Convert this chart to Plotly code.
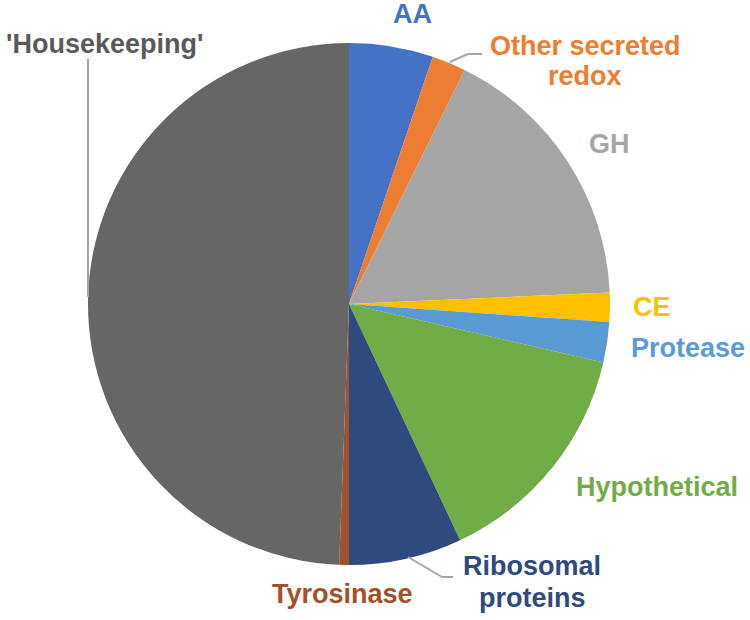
import plotly.graph_objects as go

categories = ["AA", "Other secreted redox", "GH", "CE", "Protease", "Hypothetical",
              "Ribosomal proteins", "Tyrosinase", "'Housekeeping'"]
values = [5.2, 2.1, 17.0, 1.8, 2.5, 14.4, 7.0, 0.6, 49.4]
colors = ["#4472C4", "#ED7D31", "#A5A5A5", "#FFC000", "#5B9BD5", "#70AD47",
          "#2F4A7C", "#A0522D", "#666666"]

W, H = 750, 620
cx, cy, r = 349, 304, 261


def px(x):
    return x / W


def py(y):
    return 1 - y / H


fig = go.Figure(go.Pie(
    labels=categories, values=values, sort=False, direction="clockwise",
    rotation=0, marker=dict(colors=colors, line=dict(width=0)),
    textinfo="none", hoverinfo="label+percent", showlegend=False,
    domain=dict(x=[px(cx - r), px(cx + r)], y=[py(cy + r), py(cy - r)]),
))

font = "Liberation Sans, Arial, sans-serif"
labels = [
    ("AA", 412, 14, "#4472C4"),
    ("Other secreted", 585, 46, "#ED7D31"),
    ("redox", 585, 76, "#ED7D31"),
    ("GH", 609, 144, "#A5A5A5"),
    ("CE", 652, 307, "#FFC000"),
    ("Protease", 688, 348, "#5B9BD5"),
    ("Hypothetical", 657, 487, "#70AD47"),
    ("Ribosomal", 532, 566, "#2F4A7C"),
    ("proteins", 532, 598, "#2F4A7C"),
    ("Tyrosinase", 342, 594, "#A0522D"),
    ("'Housekeeping'", 104, 44, "#595959"),
]
anns = []
for t, x, y, c in labels:
    anns.append(dict(text="<b>%s</b>" % t, x=px(x), y=py(y), xref="paper", yref="paper",
                     xanchor="center", yanchor="middle", showarrow=False,
                     font=dict(family=font, size=27, color=c), align="center"))

leaders = [
    [(88, 59), (88, 297)],
    [(450, 62), (468, 54), (482, 54)],
    [(408, 557), (442, 577), (453, 577)],
]
shapes = []
for pts in leaders:
    for (x0, y0), (x1, y1) in zip(pts[:-1], pts[1:]):
        shapes.append(dict(type="line", xref="paper", yref="paper",
                           x0=px(x0), y0=py(y0), x1=px(x1), y1=py(y1),
                           line=dict(color="#A5A5A5", width=2)))

fig.update_layout(width=W, height=H, margin=dict(l=0, r=0, t=0, b=0),
                  paper_bgcolor="white", plot_bgcolor="white",
                  annotations=anns, shapes=shapes)
fig.write_html("out.html", config={"displayModeBar": False},
               post_script="document.body.style.margin='0';")
